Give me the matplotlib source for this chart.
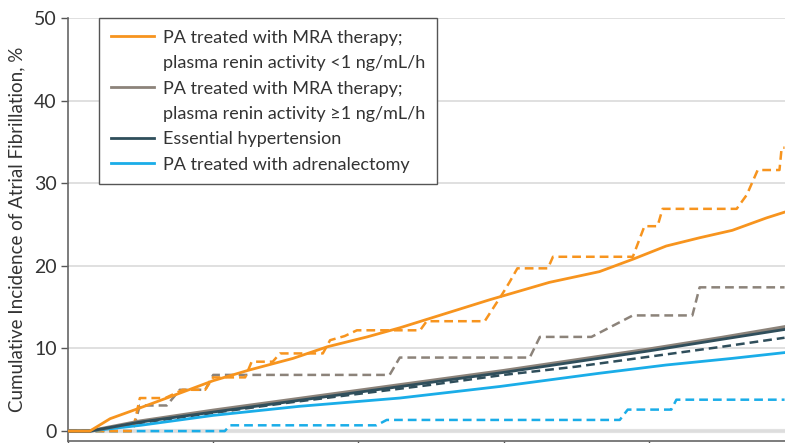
import numpy as np
import matplotlib.pyplot as plt
from matplotlib.lines import Line2D

plt.rcParams.update({
    "font.family": ["Lato", "DejaVu Sans"],
    "font.size": 13,
    "text.color": "#333333",
    "axes.labelcolor": "#333333",
    "xtick.color": "#555555",
    "ytick.color": "#555555",
    "xtick.labelcolor": "#333333",
    "ytick.labelcolor": "#333333",
})

# follow-up time (years) and cumulative incidence (%)
mra_low_t = [0, 0.30, 0.58, 0.99, 1.36, 2.0, 2.5, 3.1, 3.57, 4.12, 4.57, 5.81, 6.63, 7.32, 7.78, 8.24, 8.70, 9.15, 9.62, 9.87]
mra_low_y = [0, 0, 1.5, 2.8, 4.0, 6.1, 7.4, 8.8, 10.2, 11.4, 12.5, 15.9, 18.0, 19.3, 20.8, 22.4, 23.4, 24.3, 25.8, 26.5]

mra_low_d_t = [0, 0.89, 0.99, 1.34, 1.58, 1.89, 2.0, 2.44, 2.53, 2.82, 2.92, 3.51, 3.61, 3.81, 3.98, 4.85, 4.94, 5.74,
               5.99, 6.08, 6.19, 6.61, 6.68, 7.78, 7.94, 8.12, 8.19, 9.21, 9.35, 9.50, 9.80, 9.83, 9.87]
mra_low_d_y = [0, 0, 4.0, 4.0, 5.0, 5.0, 6.5, 6.5, 8.4, 8.4, 9.4, 9.4, 11.0, 11.5, 12.2, 12.2, 13.3, 13.3,
               16.7, 18.0, 19.7, 19.7, 21.1, 21.1, 24.8, 24.8, 26.9, 26.9, 28.6, 31.6, 31.6, 34.3, 34.3]

mra_high_t = [0, 0.30, 1.0, 2.0, 3.0, 4.0, 5.0, 6.0, 7.0, 8.0, 9.0, 9.87]
mra_high_y = [0, 0, 1.2, 2.5, 3.7, 4.9, 6.1, 7.3, 8.6, 9.9, 11.3, 12.6]

mra_high_d_t = [0, 0.89, 0.99, 1.36, 1.54, 1.89, 2.0, 4.43, 4.57, 6.36, 6.50, 7.21, 7.78, 8.60, 8.70, 9.87]
mra_high_d_y = [0, 0, 3.1, 3.1, 5.0, 5.0, 6.8, 6.8, 8.9, 8.9, 11.4, 11.4, 14.0, 14.0, 17.4, 17.4]

eh_t = [0, 0.30, 1.0, 2.0, 3.0, 4.0, 5.0, 6.0, 7.0, 8.0, 9.0, 9.87]
eh_y = [0, 0, 1.1, 2.3, 3.5, 4.7, 5.9, 7.1, 8.4, 9.7, 11.1, 12.3]

eh_d_t = [0, 0.30, 1.0, 2.0, 3.0, 4.0, 5.0, 6.0, 7.0, 8.0, 9.0, 9.87]
eh_d_y = [0, 0, 1.0, 2.2, 3.4, 4.5, 5.6, 6.8, 7.8, 9.0, 10.2, 11.3]

adx_t = [0, 0.30, 1.0, 2.0, 3.19, 4.57, 5.95, 7.32, 8.24, 9.15, 9.87]
adx_y = [0, 0, 0.7, 1.9, 3.0, 4.0, 5.4, 7.0, 8.0, 8.8, 9.5]

adx_d_t = [0, 2.16, 2.23, 4.25, 4.39, 7.60, 7.71, 8.31, 8.38, 9.87]
adx_d_y = [0, 0, 0.7, 0.7, 1.35, 1.35, 2.6, 2.6, 3.8, 3.8]

orange = "#F7941E"
taupe = "#8C837A"
slate = "#2F4E5B"
sky = "#1AADE8"

fig = plt.figure(figsize=(7.85, 4.43), dpi=100)
ax = fig.add_axes([68/785, 2/443, 726/785, 423/443])

ax.set_xlim(0, 10)
ax.set_ylim(-1.2, 50)
ax.set_yticks([0, 10, 20, 30, 40, 50])
ax.set_xticks([0, 2, 4, 6, 8, 10])
ax.yaxis.grid(True, color="#dddddd", linewidth=1.3, zorder=0)
ax.axhline(0, color="#e2e2e2", linewidth=3, zorder=0.5)
ax.set_axisbelow(True)

for s in ["top", "right"]:
    ax.spines[s].set_visible(False)
for s in ["left", "bottom"]:
    ax.spines[s].set_color("#666666")
    ax.spines[s].set_linewidth(1.2)
ax.tick_params(axis="y", length=5, width=1, labelsize=14, pad=3)
# year labels sit below the bottom edge of the figure
ax.tick_params(axis="x", length=5, width=1, labelbottom=False)

lw_s = 2.0
lw_d = 1.8
dash = (3.5, 2.0)

ax.plot(adx_d_t, adx_d_y, color=sky, lw=lw_d, dashes=dash, zorder=2)
ax.plot(eh_d_t, eh_d_y, color=slate, lw=lw_d, dashes=dash, zorder=2)
ax.plot(mra_high_d_t, mra_high_d_y, color=taupe, lw=lw_d, dashes=dash, zorder=2)
ax.plot(mra_low_d_t, mra_low_d_y, color=orange, lw=lw_d, dashes=dash, zorder=2)
ax.plot(adx_t, adx_y, color=sky, lw=lw_s, zorder=3)
ax.plot(mra_high_t, mra_high_y, color=taupe, lw=lw_s + 0.6, zorder=3)
ax.plot(eh_t, eh_y, color=slate, lw=lw_s, zorder=3)
ax.plot(mra_low_t, mra_low_y, color=orange, lw=lw_s, zorder=3)

ax.set_ylabel("Cumulative Incidence of Atrial Fibrillation, %", fontsize=13.5, labelpad=6)

blank = Line2D([], [], color="none")
handles = [Line2D([], [], color=orange, lw=2), blank,
           Line2D([], [], color=taupe, lw=2), blank,
           Line2D([], [], color=slate, lw=2),
           Line2D([], [], color=sky, lw=2)]
labels = ["PA treated with MRA therapy;", "plasma renin activity <1 ng/mL/h",
          "PA treated with MRA therapy;", "plasma renin activity \u22651 ng/mL/h",
          "Essential hypertension", "PA treated with adrenalectomy"]
leg = ax.legend(handles, labels, loc="upper left", bbox_to_anchor=(99/785, 1 - 18/443),
                bbox_transform=fig.transFigure, borderaxespad=0, fancybox=False,
                frameon=True, framealpha=1, edgecolor="#555555", fontsize=13,
                handlelength=2.4, handletextpad=0.5, borderpad=0.65, labelspacing=0.52)
leg.get_frame().set_linewidth(1.0)
leg.set_zorder(5)

fig.savefig("out.png", dpi=100)
